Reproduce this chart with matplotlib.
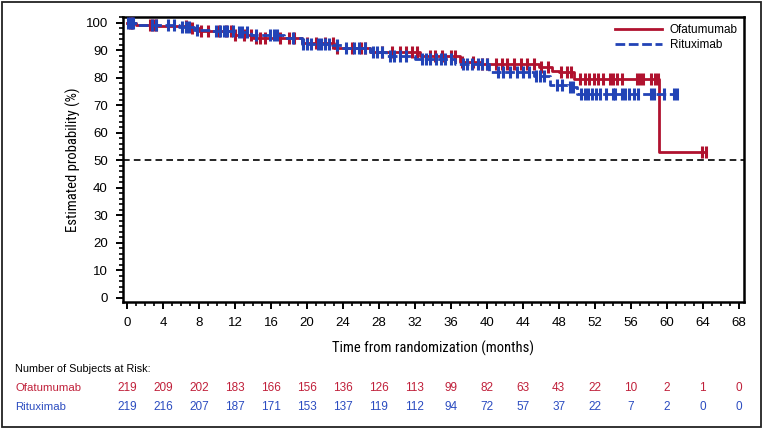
import numpy as np
import matplotlib
matplotlib.use("Agg")
import matplotlib.pyplot as plt
from matplotlib.transforms import blended_transform_factory
from matplotlib.patches import Rectangle
from matplotlib.ticker import MultipleLocator

# ---------------- data ----------------
ofa_times = [0, 1.0, 3.4, 7.0, 8.0, 12.0, 14.0, 19.5, 23.0, 27.0, 32.6, 37.0, 39.2,
             45.8, 47.3, 48.0, 49.7, 59.2]
ofa_surv = [100, 99.3, 98.9, 98.0, 96.9, 95.7, 94.6, 92.5, 91.0, 89.2, 88.0, 85.6, 85.0,
            83.8, 82.6, 82.0, 79.6, 53.0]
ofa_end = 64.4
ofa_censor = [0.3, 0.6, 2.6, 2.9, 3.2, 6.5, 7.2, 8.2, 9.0, 10.2, 11.0, 11.6, 12.0, 13.0,
              13.8, 14.3, 14.8, 15.3, 17.0, 18.0, 18.6, 20.0, 21.0, 22.0, 22.9, 23.4,
              25.0, 26.0, 26.5, 28.3, 29.5, 30.3, 31.0, 31.7, 32.2, 33.7, 34.2, 35.0,
              36.0, 36.5, 37.2, 38.5, 39.5, 40.0, 41.0, 41.7, 42.3, 43.0, 43.8, 44.5,
              45.3, 46.0, 46.8, 48.3, 48.9, 49.4, 50.4, 50.9, 51.4, 51.9, 52.4, 52.9,
              53.7, 54.0, 54.5, 55.0, 56.7, 57.0, 57.4, 58.3, 58.7, 59.0, 63.9, 64.4]

rit_times = [0, 1.2, 5.8, 7.4, 9.5, 12.2, 13.8, 17.5, 19.4, 22.8, 24.0, 27.0, 28.8,
             32.0, 36.5, 40.3, 45.2, 47.0, 49.0, 50.0]
rit_surv = [100, 99.3, 98.5, 97.3, 96.9, 96.5, 95.4, 94.5, 92.3, 91.8, 90.8, 89.2, 88.0,
            86.8, 85.0, 82.0, 80.8, 77.5, 76.5, 74.0]
rit_end = 61.2
rit_censor = [0.1, 0.4, 0.7, 2.8, 3.2, 4.5, 5.2, 6.1, 6.5, 6.9, 7.8, 9.9, 10.3, 10.8,
              11.1, 11.8, 12.4, 12.8, 13.3, 14.3, 15.9, 16.3, 16.7, 18.5, 19.6, 20.0,
              20.5, 21.2, 21.6, 22.0, 22.5, 23.3, 24.4, 25.2, 25.8, 26.5, 27.4, 27.8,
              28.3, 29.2, 29.7, 30.4, 31.0, 32.8, 33.2, 33.7, 34.3, 34.9, 35.3, 36.0,
              37.3, 37.8, 38.4, 39.0, 39.5, 40.0, 41.2, 41.8, 42.6, 43.4, 44.0, 44.7,
              45.5, 45.9, 46.4, 47.8, 48.4, 49.2, 49.6, 50.5, 50.9, 51.3, 51.7, 52.1,
              52.6, 53.2, 54.0, 54.3, 55.0, 55.4, 55.8, 56.4, 56.8, 58.3, 58.6, 59.7,
              60.8, 61.2]

risk_times = [0, 4, 8, 12, 16, 20, 24, 28, 32, 36, 40, 44, 48, 52, 56, 60, 64, 68]
ofa_risk = [219, 209, 202, 183, 166, 156, 136, 126, 113, 99, 82, 63, 43, 22, 10, 2, 1, 0]
rit_risk = [219, 216, 207, 187, 171, 153, 137, 119, 112, 94, 72, 57, 37, 22, 7, 2, 0, 0]

groups = ["Ofatumumab", "Rituximab"]
ref_level = 50

# ---------------- style ----------------
RED = "#B0122F"
BLUE = "#2243B6"
TXT_RED = "#C0203A"
TXT_BLUE = "#2B4CC0"
base_font = ["Liberation Sans", "DejaVu Sans"]
narrow_font = ["Liberation Sans Narrow", "Roboto Condensed", "DejaVu Sans"]
plt.rcParams["font.family"] = base_font

W, H = 762, 428
fig = plt.figure(figsize=(W / 100, H / 100), dpi=100)
ax = fig.add_axes([123 / W, 1 - 302 / H, (744 - 123) / W, (302 - 17.3) / H])


def step_value(times, surv, t):
    idx = np.searchsorted(np.asarray(times), np.asarray(t), side="right") - 1
    return np.asarray(surv)[idx]


def draw_km(times, surv, end, censor, color, ls, z):
    xs = list(times) + [end]
    ys = list(surv) + [surv[-1]]
    ax.step(xs, ys, where="post", color=color, lw=2.0, ls=ls, zorder=z)
    cy = step_value(times, surv, censor)
    ax.plot(censor, cy, ls="none", marker="|", ms=8.5, mew=2.2, color=color, zorder=z + 0.5)


draw_km(ofa_times, ofa_surv, ofa_end, ofa_censor, RED, "-", 3)
draw_km(rit_times, rit_surv, rit_end, rit_censor, BLUE, (0, (3.5, 1.3)), 4)

ax.axhline(ref_level, color="black", lw=1.2, ls=(0, (4, 2.5)), zorder=2)

# legend
h1, = ax.plot([], [], color=RED, lw=2.0, ls="-")
h2, = ax.plot([], [], color=BLUE, lw=2.0, ls=(0, (3.5, 1.3)))
leg = ax.legend([h1, h2], groups, loc="upper right", frameon=False, fontsize=8.5,
                handlelength=4.0, handletextpad=0.6, labelspacing=0.3,
                borderaxespad=0.15, bbox_to_anchor=(1.0, 1.0))

ax.set_xlim(-0.45, 68.6)
ax.set_ylim(-1.6, 102)
ax.xaxis.set_major_locator(MultipleLocator(4))
ax.xaxis.set_minor_locator(MultipleLocator(1))
ax.yaxis.set_major_locator(MultipleLocator(10))
ax.yaxis.set_minor_locator(MultipleLocator(2))
ax.tick_params(which="major", direction="out", length=5, width=1.4, labelsize=9.5, pad=6)
ax.tick_params(which="minor", direction="out", length=3, width=1.2)
for s in ax.spines.values():
    s.set_linewidth(1.8)

ax.set_xlabel("Time from randomization (months)", fontsize=10.5, family=narrow_font,
              fontstretch="condensed", labelpad=8)
ax.set_ylabel("Estimated probability (%)", fontsize=10.5, family=narrow_font,
              fontstretch="condensed", labelpad=3)

# risk table
trans = blended_transform_factory(ax.transData, fig.transFigure)
fig.text(15 / W, 1 - 369 / H, "Number of Subjects at Risk:", fontsize=7.8, va="center",
         ha="left")
fig.text(15 / W, 1 - 388 / H, groups[0], fontsize=8.2, va="center", ha="left", color=TXT_RED)
fig.text(15 / W, 1 - 407 / H, groups[1], fontsize=8.2, va="center", ha="left", color=TXT_BLUE)
for t, a, b in zip(risk_times, ofa_risk, rit_risk):
    ax.text(t, 1 - 388 / H, str(a), transform=trans, fontsize=8.5, ha="center", va="center",
            color=TXT_RED, clip_on=False)
    ax.text(t, 1 - 407 / H, str(b), transform=trans, fontsize=8.5, ha="center", va="center",
            color=TXT_BLUE, clip_on=False)

# outer border
fig.patches.append(Rectangle((1.5 / W, 1.5 / H), (W - 3) / W, (H - 3) / H,
                             transform=fig.transFigure, fill=False, lw=1.3,
                             edgecolor="#222222"))

fig.savefig("out.png", dpi=100)
